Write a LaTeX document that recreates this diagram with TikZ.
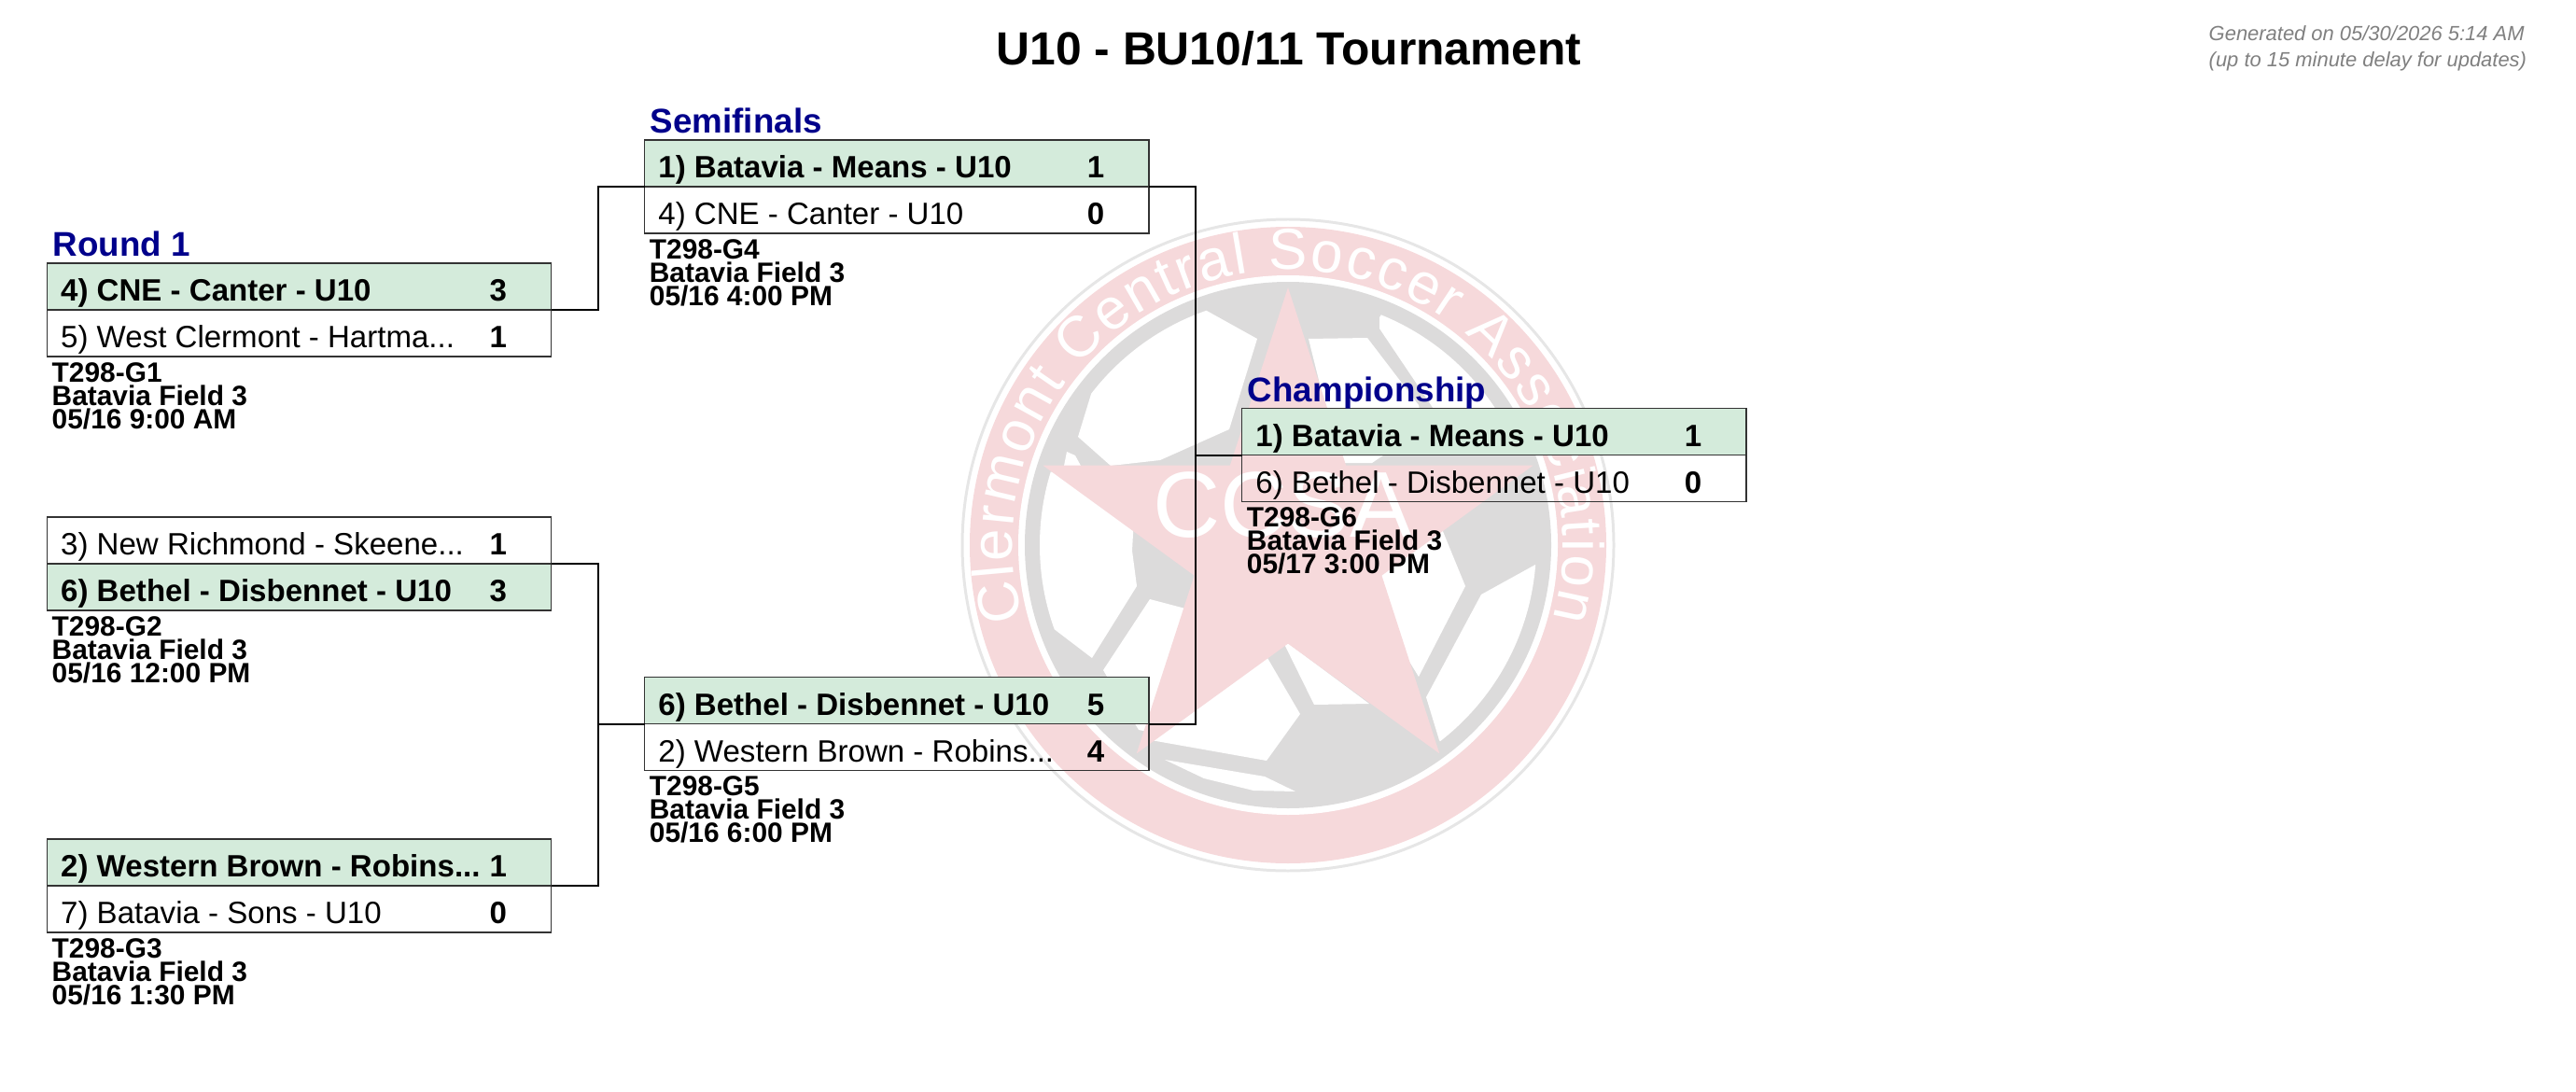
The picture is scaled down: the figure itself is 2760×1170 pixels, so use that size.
\documentclass[tikz,border=0pt]{standalone}
\usepackage{fontspec}
\setmainfont{Liberation Sans}
\usetikzlibrary{positioning,calc,decorations.text}

\definecolor{wingreen}{HTML}{D4EBDB}
\definecolor{logopink}{HTML}{F6D9DB}
\definecolor{logogray}{HTML}{DCDBDB}
\definecolor{ringgray}{HTML}{E6E6E6}
\definecolor{headblue}{HTML}{00008B}
\definecolor{stampgray}{HTML}{808080}

\tikzset{
  win row/.style={draw=black!80,line width=.38pt,fill=wingreen,minimum width=5.4cm,minimum height=.5cm,inner sep=0,outer sep=0},
  plain row/.style={draw=black!80,line width=.38pt,minimum width=5.4cm,minimum height=.5cm,inner sep=0,outer sep=0},
  win text/.style={anchor=base west,inner sep=0,font=\fontsize{9.4}{11}\selectfont\bfseries},
  plain text/.style={anchor=base west,inner sep=0,font=\fontsize{9.4}{11}\selectfont},
  score text/.style={anchor=base,inner sep=0,font=\fontsize{9.4}{11}\selectfont\bfseries},
  round head/.style={anchor=base west,inner sep=0,text=headblue,font=\fontsize{10.45}{12}\selectfont\bfseries},
  game info/.style={anchor=north west,inner sep=0,align=left,font=\fontsize{8.5}{7.11}\selectfont\bfseries},
  stamp/.style={anchor=base west,inner sep=0,text=stampgray,font=\fontsize{6.24}{8}\selectfont\itshape},
  bracket/.style={line width=.5pt,black}
}

\begin{document}
\begin{tikzpicture}[x=.01cm,y=-.01cm]
\useasboundingbox (0,0) rectangle (2760,1170);

\begin{scope}[shift={(1380,584)}]
\draw[ringgray,line width=.85pt] (0,0) circle (349);
\fill[logopink] (0,0) circle (341);
\fill[white] (0,0) circle (289);
\fill[logogray] (0,0) circle (282);
\begin{scope}
\clip (0,0) circle (266);
\fill[white] (-87,-251) -- (-33,-221) -- (-63,-124) -- (-137,-91) -- (-190,-85) -- (-225,-116) -- (-210,-165) -- (-165,-220) -- (-120,-262) -- cycle;
\fill[white] (-237,-100) -- (-228,-96) -- (-222,-85) -- (-240,-85) -- cycle;
\fill[white] (-220,-70) -- (-260,-80) -- (-280,0) -- (-252,89) -- (-210,121) -- (-162,44) -- (-167,6) -- (-165,-30) -- cycle;
\fill[white] (-148,58) -- (-110,68) -- (-150,200) -- (-160,198) -- (-198,134) -- cycle;
\fill[white] (-22,121) -- (13,181) -- (-23,231) -- (-147,209) -- cycle;
\fill[white] (-132,230) -- (-25,248) -- (8,264) -- (-37,263) -- (-90,250) -- cycle;
\fill[white] (-7,100) -- (87,170) -- (28,171) -- cycle;
\fill[white] (90,-10) -- (165,-17) -- (190,44) -- (140,141) -- (90,60) -- cycle;
\fill[white] (207,53) -- (265,21) -- (290,100) -- (200,260) -- (162,209) -- (148,163) -- cycle;
\fill[white] (22,-221) -- (85,-222) -- (140,-150) -- (145,-125) -- (90,-88) -- (55,-88) -- cycle;
\fill[white] (98,-244) -- (110,-262) -- (200,-240) -- (300,-150) -- (215,-115) -- (170,-125) -- (98,-232) -- cycle;
\end{scope}
\fill[logopink] (270:276) -- (306:105.6) -- (342:276) -- (18:105.6) -- (54:276) -- (90:105.6) -- (126:276) -- (162:105.6) -- (198:276) -- (234:105.6) -- cycle;
\node[text=white,inner sep=0,font=\fontsize{28.45}{30}\selectfont] (logoletters) at (-6,-43) {CCSA};
\begin{scope}[x=.01cm,y=.01cm]
\path[decorate,decoration={text along path,text align=fit to path,text color=white,
  text={|\fontsize{17.6}{20}\selectfont|Clermont Central Soccer Association}}]
  (195.6:295) arc[start angle=195.6,end angle=-15.6,radius=295];
\end{scope}
\end{scope}

\node[anchor=base,inner sep=0,font=\fontsize{14.15}{16}\selectfont\bfseries] (title) at (1381,70) {U10 - BU10/11 Tournament};
\node[stamp] (stampa) at (2366,44) {Generated on 05/30/2026 5:14 AM};
\node[stamp] (stampb) at (2366,72) {(up to 15 minute delay for updates)};

\foreach \g/\x/\y/\sa/\ta/\na/\sb/\tb/\nb/\id/\when in {
  g1/50.5/282/win/{4) CNE - Canter - U10}/3/plain/{5) West Clermont - Hartma...}/1/T298-G1/{05/16 9:00 AM},
  g2/50.5/554/plain/{3) New Richmond - Skeene...}/1/win/{6) Bethel - Disbennet - U10}/3/T298-G2/{05/16 12:00 PM},
  g3/50.5/899/win/{2) Western Brown - Robins...}/1/plain/{7) Batavia - Sons - U10}/0/T298-G3/{05/16 1:30 PM},
  g4/690.7/150/win/{1) Batavia - Means - U10}/1/plain/{4) CNE - Canter - U10}/0/T298-G4/{05/16 4:00 PM},
  g5/690.7/725.7/win/{6) Bethel - Disbennet - U10}/5/plain/{2) Western Brown - Robins...}/4/T298-G5/{05/16 6:00 PM},
  g6/1330.7/437.7/win/{1) Batavia - Means - U10}/1/plain/{6) Bethel - Disbennet - U10}/0/T298-G6/{05/17 3:00 PM}}
{
  \node[\sa\space row,anchor=north west] (\g-a) at (\x,\y) {};
  \node[\sb\space row,below=0pt of \g-a] (\g-b) {};
  \node[\sa\space text] (\g-at) at ($(\g-a.south west)+(14,-9.5)$) {\ta};
  \node[\sb\space text] (\g-bt) at ($(\g-b.south west)+(14,-9.5)$) {\tb};
  \node[score text] (\g-as) at ($(\g-a.south east)+(-57,-9.5)$) {\na};
  \node[score text] (\g-bs) at ($(\g-b.south east)+(-57,-9.5)$) {\nb};
  \node[game info] (\g-info) at ($(\g-b.south west)+(4.5,5.5)$) {\id\\Batavia Field 3\\\when};
}

\node[round head] (headone) at ($(g1-a.north west)+(5.5,-7.5)$) {Round 1};
\node[round head] (headsemi) at ($(g4-a.north west)+(5.5,-7.5)$) {Semifinals};
\node[round head] (headfinal) at ($(g6-a.north west)+(5.5,-7.5)$) {Championship};

\coordinate (j1) at ($(g1-a.south east)!.5!(g4-a.south west)$);
\coordinate (j2) at (g5-a.south west -| j1);
\coordinate (j3) at ($(g4-a.south east)!.5!(g6-a.south west)$);
\coordinate (j4) at (g6-a.south west -| j3);

\draw[bracket] (g1-a.south east) -| (j1) |- (g4-a.south west);
\draw[bracket] (g2-a.south east) -| (j2) |- (g3-a.south east);
\draw[bracket] (j2) -- (g5-a.south west);
\draw[bracket] (g4-a.south east) -| (j3) |- (g5-a.south east);
\draw[bracket] (j4) -- (g6-a.south west);
\end{tikzpicture}
\end{document}
